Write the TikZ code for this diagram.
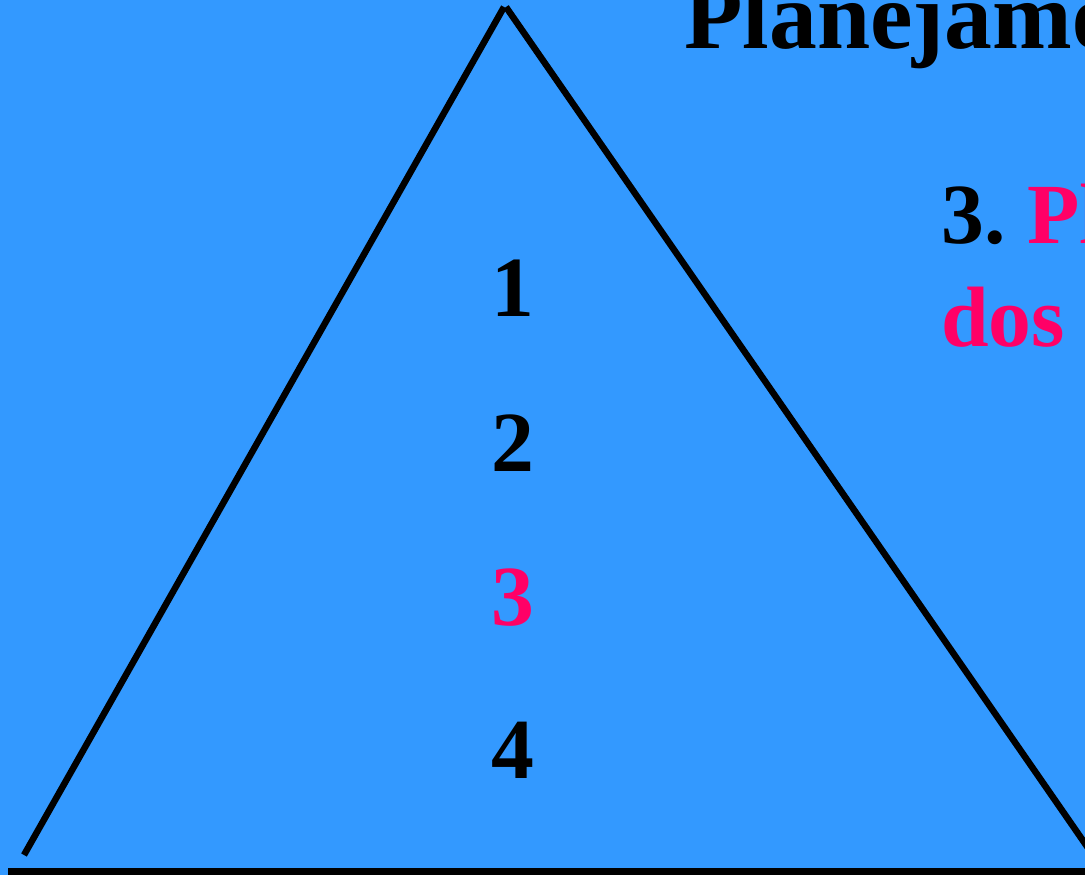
\documentclass[tikz,border=0pt]{standalone}
\usepackage{fontspec}
\setmainfont{Liberation Serif}
\definecolor{bgblue}{HTML}{3399FF}
\definecolor{hotpink}{HTML}{FF0066}
\tikzset{
  edge/.style={line width=6.5bp, black},
  base/.style={line width=9bp, black},
  num/.style={anchor=base, inner sep=0pt, font=\fontsize{86}{103}\selectfont\bfseries},
  label/.style={anchor=base west, inner sep=0pt, font=\fontsize{86}{103}\selectfont\bfseries},
  title/.style={anchor=base west, inner sep=0pt, font=\fontsize{96}{110}\selectfont\bfseries}
}
\begin{document}
\begin{tikzpicture}[x=1bp,y=-1bp]
\useasboundingbox (0,0) rectangle (1085,875);
\clip (0,0) rectangle (1085,875);
\fill[bgblue] (0,0) rectangle (1085,875);
% triangle
\coordinate (bl) at (24,855);
\coordinate (apexl) at (504,7);
\coordinate (apexr) at (506,7);
\coordinate (br) at (1095,858);
\draw[edge] (bl) -- (apexl);
\draw[edge] (apexr) -- (br);
\coordinate (basel) at (8,872);
\coordinate (baser) at (1090,872);
\draw[base] (basel) -- (baser);
% numbers
\node[num] (n1) at (513,316) {1};
\node[num] (n2) at (513,471) {2};
\node[num,text=hotpink] (n3) at (513,625) {3};
\node[num] (n4) at (513,778) {4};
% texts
\node[title] (t) at (684,48) {Planejamento};
\node[label] (l1) at (941,243) {3.\kern22bp\textcolor{hotpink}{Planejamento}};
\node[label,text=hotpink] (l2) at (941,346) {dos};
\end{tikzpicture}
\end{document}
